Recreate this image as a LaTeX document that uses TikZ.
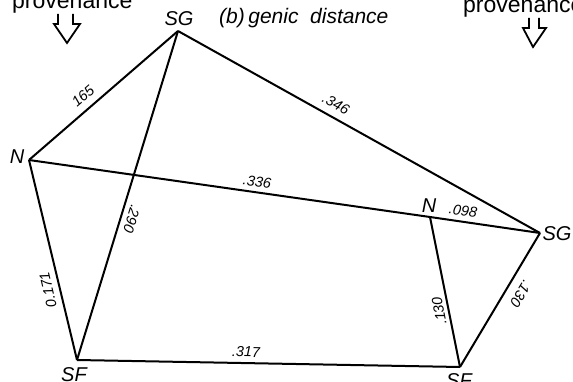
\documentclass[tikz,border=0pt]{standalone}
\usepackage{fontspec}
\setmainfont{Liberation Sans}
\begin{document}
\begin{tikzpicture}[x=1pt,y=-1pt,
  edge/.style={line width=2pt,line join=round},
  lbl/.style={font=\fontsize{14.5}{14.5}\selectfont\itshape,inner sep=0pt},
  vlbl/.style={font=\fontsize{20}{20}\selectfont\itshape,inner sep=0pt},
  title/.style={font=\fontsize{21}{21}\selectfont\itshape,inner sep=0pt,anchor=base west},
  prov/.style={font=\fontsize{23}{23}\selectfont,inner sep=0pt,anchor=base west},
  arrowshape/.style={line width=1.8pt,line join=miter}]
\useasboundingbox (0,0) rectangle (573,382);
\clip (0,0) rectangle (573,382);
% vertices
\coordinate (SGa) at (178,31);
\coordinate (Na) at (29,160);
\coordinate (SFa) at (77,360);
\coordinate (Nb) at (430,217);
\coordinate (SGb) at (540,233);
\coordinate (SFb) at (460,367);
% edges
\draw[edge] (SGa) -- (Na);
\draw[edge] (SGa) -- (SGb);
\draw[edge] (SGa) -- (SFa);
\draw[edge] (Na) -- (Nb);
\draw[edge] (Nb) -- (SGb);
\draw[edge] (Na) -- (SFa);
\draw[edge] (SFa) -- (SFb);
\draw[edge] (Nb) -- (SFb);
\draw[edge] (SGb) -- (SFb);
% vertex labels
\node[vlbl] (tSGa) at (179,19) {SG};
\node[vlbl] (tNa) at (17,157) {N};
\node[vlbl] (tSFa) at (74,375) {SF};
\node[vlbl] (tNb) at (429,206) {N};
\node[vlbl] (tSGb) at (557,234) {SG};
\node[vlbl] (tSFb) at (459,381) {SF};
% edge labels
\node[lbl,rotate=41] (l165) at (83,96) {165};
\node[lbl,rotate=-29] (l346) at (336,104) {.346};
\node[lbl,rotate=-8] (l336) at (257,182) {.336};
\node[lbl,rotate=-8] (l098) at (463,211) {.098};
\node[lbl,rotate=-107] (l290) at (132,219) {.290};
\node[lbl,rotate=103] (l171) at (48,290) {0.171};
\node[lbl,rotate=-1] (l317) at (246,352) {.317};
\node[lbl,rotate=101] (l130a) at (439,311) {.130};
\node[lbl,rotate=-121] (l130b) at (521,294) {.130};
% title
\node[title] (ttl) at (219,24) {(b)\,genic\ \ distance};
% provenance texts (cut by top edge)
\node[prov] (pL) at (12,9) {provenance};
\node[prov] (pR) at (463,13) {provenance};
% open arrows
\draw[arrowshape] (58,14) -- (58,24) -- (54,24) -- (67,43) -- (80,24) -- (73,24) -- (73,14);
\draw[arrowshape] (529,18) -- (529,28) -- (523,28) -- (533,47) -- (546,28) -- (539,28) -- (539,18);
\end{tikzpicture}
\end{document}
